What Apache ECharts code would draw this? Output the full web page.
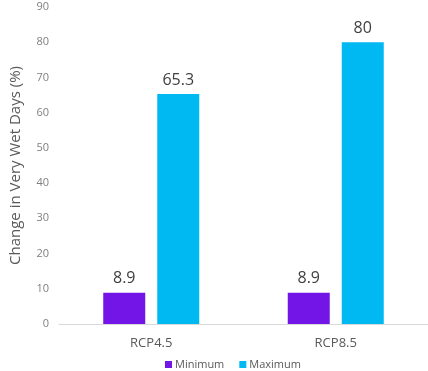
<!DOCTYPE html>
<html><head><meta charset="utf-8">
<script src="https://cdn.jsdelivr.net/npm/echarts@6/dist/echarts.min.js"></script>
<style>html,body{margin:0;padding:0;background:#fff}#c{width:428px;height:371px}</style>
</head><body><div id="c"></div>
<script>
const categories = ["RCP4.5", "RCP8.5"];
const minimum = [8.9, 8.9];
const maximum = [65.3, 80];
const seriesNames = ["Minimum", "Maximum"];
const chart = echarts.init(document.getElementById('c'));
const font = '"Open Sans", "Noto Sans", sans-serif';
chart.setOption({
  animation: false,
  textStyle: {fontFamily: font},
  grid: {left: 53, top: 7, width: 378, height: 317, containLabel: false},
  legend: {
    data: seriesNames, left: 160, top: 354, itemWidth: 7, itemHeight: 7, itemGap: 15,
    icon: 'rect',
    textStyle: {fontSize: 11, color: '#595959', fontFamily: font, padding: [0, 0, 0, -2]}
  },
  xAxis: {
    type: 'category', data: categories,
    axisLine: {lineStyle: {color: '#d9d9d9'}},
    axisTick: {show: false},
    axisLabel: {fontSize: 13, color: '#595959', margin: 13, fontFamily: font}
  },
  yAxis: {
    type: 'value', min: 0, max: 90, interval: 10,
    name: 'Change in Very Wet Days (%)', nameLocation: 'middle', nameGap: 36,
    nameTextStyle: {fontSize: 15, color: '#595959', fontFamily: font},
    axisLine: {show: false}, axisTick: {show: false},
    splitLine: {show: false},
    axisLabel: {fontSize: 11, color: '#7f7f7f', margin: 10, fontFamily: font}
  },
  series: [
    {name: seriesNames[0], type: 'bar', data: minimum, barWidth: 42, barGap: '28.6%',
     itemStyle: {color: '#7415e8'},
     label: {show: true, position: 'top', distance: 6, fontSize: 16, color: '#404040', fontFamily: font}},
    {name: seriesNames[1], type: 'bar', data: maximum, barWidth: 42,
     itemStyle: {color: '#00b9f2'},
     label: {show: true, position: 'top', distance: 6, fontSize: 16, color: '#404040', fontFamily: font}}
  ]
});
</script></body></html>
